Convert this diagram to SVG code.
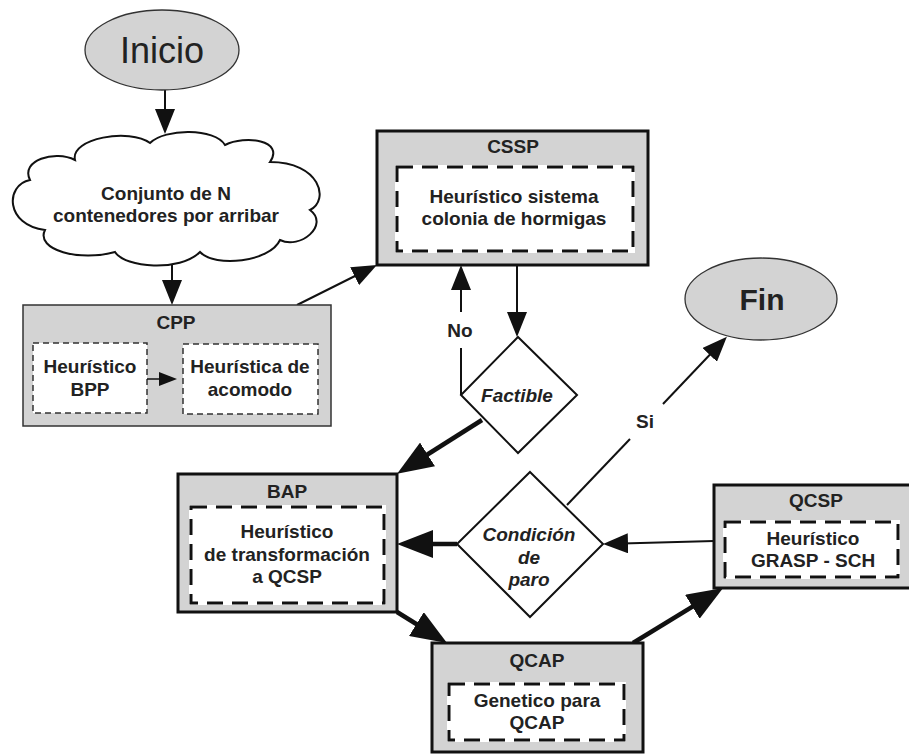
<svg xmlns="http://www.w3.org/2000/svg" width="909" height="755" viewBox="0 0 909 755">
<style>
text{font-family:"Liberation Sans",Arial,sans-serif;font-weight:bold;font-size:19px;fill:#222;text-anchor:middle}
.it{font-style:italic}
.box{fill:#d3d3d3;stroke:#111;stroke-width:3}
.thin{fill:#d3d3d3;stroke:#333;stroke-width:1.5}
.ibg{fill:#fff;stroke:#fff;stroke-width:4}
.idash{fill:none;stroke:#111;stroke-width:3;stroke-dasharray:16 9}
.sdash{fill:#fff;stroke:#333;stroke-width:1.5;stroke-dasharray:6 4}
.ell{fill:#d3d3d3;stroke:#333;stroke-width:1.3}
.dia{fill:#fff;stroke:#111;stroke-width:2}
.ln{fill:none;stroke:#111;stroke-width:2}
.tk{fill:none;stroke:#111;stroke-width:4.5}
</style>
<defs>
<marker id="ah" markerUnits="userSpaceOnUse" markerWidth="26" markerHeight="20" refX="15" refY="10" orient="auto"><path d="M0,0 L25,10 L0,20 Z" fill="#111"/></marker>
<marker id="ahs" markerUnits="userSpaceOnUse" markerWidth="18" markerHeight="14" refX="12" refY="7" orient="auto"><path d="M0,0 L18,7 L0,14 Z" fill="#111"/></marker>
<marker id="ahl" markerUnits="userSpaceOnUse" markerWidth="37" markerHeight="28" refX="16" refY="14" orient="auto"><path d="M0,0 L36,14 L0,28 Z" fill="#111"/></marker>
</defs>

<g id="connectors">
<line class="ln" x1="165" y1="90" x2="165" y2="124" marker-end="url(#ah)"/>
<line class="ln" x1="172" y1="265" x2="172" y2="295" marker-end="url(#ah)"/>
<line class="ln" x1="297" y1="305" x2="368" y2="269.5" marker-end="url(#ah)"/>
<line class="ln" x1="517" y1="265" x2="517" y2="327" marker-end="url(#ah)"/>
<line class="ln" x1="461" y1="395" x2="461" y2="348"/>
<line class="ln" x1="461" y1="312" x2="461" y2="275" marker-end="url(#ah)"/>
<line class="ln" x1="567" y1="505" x2="630" y2="439"/>
<line class="ln" x1="663" y1="404" x2="720" y2="344" marker-end="url(#ah)"/>
<line class="ln" x1="714" y1="541" x2="613" y2="543.7" marker-end="url(#ah)"/>
<line class="tk" x1="482" y1="420" x2="414" y2="463" marker-end="url(#ahl)"/>
<line class="tk" x1="457" y1="544" x2="417" y2="544" marker-end="url(#ahl)"/>
<line class="tk" x1="397" y1="612" x2="430" y2="632.5" marker-end="url(#ahl)"/>
<line class="tk" x1="633" y1="643" x2="706" y2="598.4" marker-end="url(#ahl)"/>
<text x="460" y="337">No</text>
<text x="645" y="428">Si</text>
</g>

<g id="inicio">
<ellipse class="ell" cx="162" cy="50" rx="77" ry="40"/>
<text x="162" y="63" style="font-weight:normal;font-size:36px">Inicio</text>
</g>

<g id="conjunto">
<path d="M75,160 C70,138 130,128 150,143 C165,128 215,128 225,145 C245,135 285,140 270,162 C320,162 330,200 310,210 C330,225 300,250 280,240 C270,262 215,268 200,252 C180,272 125,268 115,252 C80,262 35,250 45,230 C5,225 5,185 30,180 C20,160 55,150 75,160 Z" fill="#fff" stroke="#111" stroke-width="2"/>
<text x="166" y="200">Conjunto de N</text>
<text x="166" y="222">contenedores por arribar</text>
</g>

<g id="cpp">
<rect class="thin" x="23" y="305" width="308" height="121"/>
<text x="176" y="329">CPP</text>
<rect class="sdash" x="33" y="343" width="114" height="70"/>
<text x="90" y="373">Heurístico</text>
<text x="90" y="396">BPP</text>
<rect class="sdash" x="183" y="344" width="135" height="70"/>
<text x="250" y="373">Heurística de</text>
<text x="250" y="396">acomodo</text>
<line x1="147" y1="379" x2="171" y2="379" stroke="#111" stroke-width="1.5" marker-end="url(#ahs)"/>
</g>

<g id="cssp">
<rect class="box" x="377" y="131" width="271" height="134"/>
<text x="513" y="153">CSSP</text>
<rect class="ibg" x="397" y="167" width="236" height="84"/>
<rect class="idash" x="397" y="167" width="236" height="84"/>
<text x="514" y="203">Heurístico sistema</text>
<text x="514" y="225">colonia de hormigas</text>
</g>

<g id="factible">
<polygon class="dia" points="518,337 577,395 518,453 461,395"/>
<text class="it" x="517" y="402">Factible</text>
</g>

<g id="fin">
<ellipse class="ell" cx="761" cy="299" rx="76" ry="41"/>
<text x="762" y="310" style="font-size:30px">Fin</text>
</g>

<g id="bap">
<rect class="box" x="178" y="474" width="219" height="138"/>
<text x="287" y="498">BAP</text>
<rect class="ibg" x="191" y="507" width="193" height="96"/>
<rect class="idash" x="191" y="507" width="193" height="96"/>
<text x="287" y="538">Heurístico</text>
<text x="287" y="561">de transformación</text>
<text x="287" y="583">a QCSP</text>
</g>

<g id="condicion">
<polygon class="dia" points="530,472 603,544 530,617 457,544"/>
<text class="it" x="529" y="541">Condición</text>
<text class="it" x="529" y="564">de</text>
<text class="it" x="529" y="586">paro</text>
</g>

<g id="qcsp">
<rect class="box" x="714" y="485" width="200" height="103"/>
<text x="816" y="507">QCSP</text>
<rect class="ibg" x="725" y="522" width="173" height="55"/>
<rect class="idash" x="725" y="522" width="173" height="55"/>
<text x="813" y="545">Heurístico</text>
<text x="813" y="567">GRASP - SCH</text>
</g>

<g id="qcap">
<rect class="box" x="432" y="643" width="211" height="109"/>
<text x="537" y="667">QCAP</text>
<rect class="ibg" x="449" y="684" width="175" height="56"/>
<rect class="idash" x="449" y="684" width="175" height="56"/>
<text x="537" y="707">Genetico para</text>
<text x="537" y="729">QCAP</text>
</g>
</svg>
